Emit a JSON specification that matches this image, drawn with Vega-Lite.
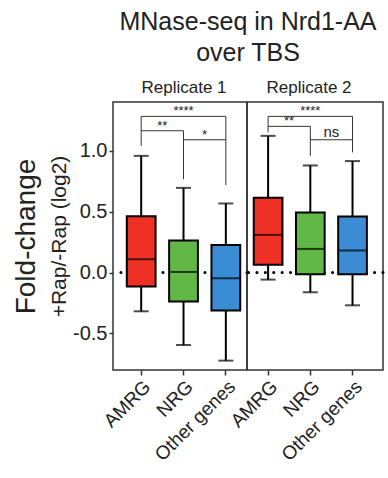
{
  "$schema": "https://vega.github.io/schema/vega-lite/v6.json",
  "background": "white",
  "padding": {"left": 11, "top": 10, "right": 0, "bottom": 0},
  "bounds": "flush",
  "title": {"text": ["MNase-seq in Nrd1-AA", "over TBS"], "fontSize": 25, "lineHeight": 31, "anchor": "start", "align": "center", "frame": "group", "dx": 135, "offset": 12},
  "datasets": {
    "boxes": [
      {"rep": "Replicate 1", "cat": "AMRG", "lower": -0.318, "q1": -0.115, "median": 0.109, "q3": 0.463, "upper": 0.958},
      {"rep": "Replicate 1", "cat": "NRG", "lower": -0.595, "q1": -0.238, "median": 0.005, "q3": 0.263, "upper": 0.695},
      {"rep": "Replicate 1", "cat": "Other genes", "lower": -0.723, "q1": -0.312, "median": -0.047, "q3": 0.227, "upper": 0.567},
      {"rep": "Replicate 2", "cat": "AMRG", "lower": -0.058, "q1": 0.065, "median": 0.309, "q3": 0.613, "upper": 1.122},
      {"rep": "Replicate 2", "cat": "NRG", "lower": -0.162, "q1": -0.014, "median": 0.194, "q3": 0.493, "upper": 0.879},
      {"rep": "Replicate 2", "cat": "Other genes", "lower": -0.269, "q1": -0.014, "median": 0.181, "q3": 0.46, "upper": 0.915}
    ],
    "hbr": [
      {"rep": "Replicate 1", "c1": "AMRG", "c2": "Other genes", "y": 1.282},
      {"rep": "Replicate 1", "c1": "AMRG", "c2": "NRG", "y": 1.164},
      {"rep": "Replicate 1", "c1": "NRG", "c2": "Other genes", "y": 1.09},
      {"rep": "Replicate 2", "c1": "AMRG", "c2": "Other genes", "y": 1.282},
      {"rep": "Replicate 2", "c1": "AMRG", "c2": "NRG", "y": 1.2},
      {"rep": "Replicate 2", "c1": "NRG", "c2": "Other genes", "y": 1.09}
    ],
    "vbr": [
      {"rep": "Replicate 1", "cat": "AMRG", "y1": 1.282, "y2": 1.04},
      {"rep": "Replicate 1", "cat": "NRG", "y1": 1.164, "y2": 0.767},
      {"rep": "Replicate 1", "cat": "Other genes", "y1": 1.282, "y2": 0.717},
      {"rep": "Replicate 2", "cat": "AMRG", "y1": 1.282, "y2": 1.15},
      {"rep": "Replicate 2", "cat": "NRG", "y1": 1.2, "y2": 0.958},
      {"rep": "Replicate 2", "cat": "Other genes", "y1": 1.282, "y2": 0.986}
    ],
    "sig": [
      {"rep": "Replicate 1", "c1": "AMRG", "c2": "Other genes", "y": 1.282, "label": "****"},
      {"rep": "Replicate 1", "c1": "AMRG", "c2": "NRG", "y": 1.164, "label": "**"},
      {"rep": "Replicate 1", "c1": "NRG", "c2": "Other genes", "y": 1.09, "label": "*"},
      {"rep": "Replicate 2", "c1": "AMRG", "c2": "Other genes", "y": 1.282, "label": "****"},
      {"rep": "Replicate 2", "c1": "AMRG", "c2": "NRG", "y": 1.2, "label": "**"},
      {"rep": "Replicate 2", "c1": "NRG", "c2": "Other genes", "y": 1.09, "label": "ns"}
    ]
  },
  "spacing": 0,
  "hconcat": [
    {
      "width": 134,
      "height": 268,
      "title": {"text": "Replicate 1", "fontSize": 17, "dx": 4, "offset": 5},
      "resolve": {"axis": {"y": "independent"}},
      "layer": [
        {
          "data": {"values": [{}]},
          "mark": {"type": "rule", "strokeDash": [0.1, 8.3], "strokeCap": "round", "strokeWidth": 3, "color": "black"},
          "encoding": {"y": {"datum": 0, "type": "quantitative", "scale": {"domain": [-0.8, 1.4], "nice": false, "zero": false}, "axis": null}}
        },
        {
          "data": {"name": "boxes"},
          "transform": [{"filter": "datum.rep == 'Replicate 1'"}],
          "mark": {"type": "rule", "strokeWidth": 2, "color": "black"},
          "encoding": {
            "x": {"field": "cat", "type": "nominal", "sort": ["AMRG", "NRG", "Other genes"], "scale": {"domain": ["AMRG", "NRG", "Other genes"], "paddingInner": 0, "paddingOuter": 0.083, "align": 1}, "axis": {"title": null, "labelAngle": -45, "labelFontSize": 19, "tickSize": 5, "labelAlign": "right", "labelBaseline": "top", "labelPadding": 2}},
            "y": {"field": "lower", "type": "quantitative", "scale": {"domain": [-0.8, 1.4], "nice": false, "zero": false}, "axis": {"orient": "left", "title": "Fold-change", "titleFontSize": 28, "labels": false, "ticks": false, "domain": false, "titlePadding": 73}},
            "y2": {"field": "upper"}
          }
        },
        {
          "data": {"name": "boxes"},
          "transform": [{"filter": "datum.rep == 'Replicate 1'"}],
          "mark": {"type": "bar", "stroke": "black", "strokeWidth": 2, "width": {"band": 0.68}},
          "encoding": {
            "x": {"field": "cat", "type": "nominal", "sort": ["AMRG", "NRG", "Other genes"]},
            "y": {"field": "q1", "type": "quantitative", "axis": {"orient": "left", "title": "+Rap/-Rap (log2)", "titleFontSize": 21, "labelFontSize": 20, "values": [-0.5, 0, 0.5, 1], "labelExpr": "datum.value < 0 ? '-' + format(-datum.value, '.1f') : format(datum.value, '.1f')", "tickSize": 4, "labelPadding": 2, "titlePadding": 3}},
            "y2": {"field": "q3"},
            "color": {"field": "cat", "type": "nominal", "scale": {"domain": ["AMRG", "NRG", "Other genes"], "range": ["#ee3124", "#62b847", "#3a8dd5"]}, "legend": null}
          }
        },
        {
          "data": {"name": "boxes"},
          "transform": [{"filter": "datum.rep == 'Replicate 1'"}],
          "mark": {"type": "tick", "color": "black", "thickness": 2, "size": 29},
          "encoding": {
            "x": {"field": "cat", "type": "nominal", "sort": ["AMRG", "NRG", "Other genes"]},
            "y": {"field": "median", "type": "quantitative", "axis": null}
          }
        },
        {
          "data": {"name": "boxes"},
          "transform": [{"filter": "datum.rep == 'Replicate 1'"}],
          "mark": {"type": "tick", "color": "black", "thickness": 2, "size": 15},
          "encoding": {
            "x": {"field": "cat", "type": "nominal", "sort": ["AMRG", "NRG", "Other genes"]},
            "y": {"field": "lower", "type": "quantitative", "axis": null}
          }
        },
        {
          "data": {"name": "boxes"},
          "transform": [{"filter": "datum.rep == 'Replicate 1'"}],
          "mark": {"type": "tick", "color": "black", "thickness": 2, "size": 15},
          "encoding": {
            "x": {"field": "cat", "type": "nominal", "sort": ["AMRG", "NRG", "Other genes"]},
            "y": {"field": "upper", "type": "quantitative", "axis": null}
          }
        },
        {
          "data": {"name": "hbr"},
          "transform": [{"filter": "datum.rep == 'Replicate 1'"}],
          "mark": {"type": "rule", "strokeWidth": 1, "color": "#333"},
          "encoding": {
            "x": {"field": "c1", "type": "nominal", "sort": ["AMRG", "NRG", "Other genes"]},
            "x2": {"field": "c2"},
            "y": {"field": "y", "type": "quantitative", "axis": null}
          }
        },
        {
          "data": {"name": "vbr"},
          "transform": [{"filter": "datum.rep == 'Replicate 1'"}],
          "mark": {"type": "rule", "strokeWidth": 1, "color": "#333"},
          "encoding": {
            "x": {"field": "cat", "type": "nominal", "sort": ["AMRG", "NRG", "Other genes"]},
            "y": {"field": "y1", "type": "quantitative", "axis": null},
            "y2": {"field": "y2"}
          }
        },
        {
          "data": {"name": "sig"},
          "transform": [{"filter": "datum.rep == 'Replicate 1' && datum.label == '****'"}],
          "mark": {"type": "text", "fontSize": 13, "baseline": "alphabetic", "dy": -1, "color": "#222"},
          "encoding": {
            "x": {"datum": "NRG", "type": "nominal"},
            "y": {"field": "y", "type": "quantitative", "axis": null},
            "text": {"field": "label"}
          }
        },
        {
          "data": {"name": "sig"},
          "transform": [{"filter": "datum.rep == 'Replicate 1' && datum.label != '****'"}],
          "mark": {"type": "text", "fontSize": 13, "baseline": "alphabetic", "dy": -1, "dx": 21, "color": "#222"},
          "encoding": {
            "x": {"field": "c1", "type": "nominal", "sort": ["AMRG", "NRG", "Other genes"]},
            "y": {"field": "y", "type": "quantitative", "axis": null},
            "text": {"field": "label"}
          }
        }
      ]
    },
    {
      "width": 136,
      "height": 268,
      "title": {"text": "Replicate 2", "fontSize": 17, "dx": -6, "offset": 5},
      "layer": [
        {
          "data": {"values": [{}]},
          "mark": {"type": "rule", "strokeDash": [0.1, 8.3], "strokeCap": "round", "strokeWidth": 3, "color": "black"},
          "encoding": {"y": {"datum": 0, "type": "quantitative", "scale": {"domain": [-0.8, 1.4], "nice": false, "zero": false}, "axis": null}}
        },
        {
          "data": {"name": "boxes"},
          "transform": [{"filter": "datum.rep == 'Replicate 2'"}],
          "mark": {"type": "rule", "strokeWidth": 2, "color": "black"},
          "encoding": {
            "x": {"field": "cat", "type": "nominal", "sort": ["AMRG", "NRG", "Other genes"], "scale": {"domain": ["AMRG", "NRG", "Other genes"], "paddingInner": 0, "paddingOuter": 0.111, "align": 0}, "axis": {"title": null, "labelAngle": -45, "labelFontSize": 19, "tickSize": 5, "labelAlign": "right", "labelBaseline": "top", "labelPadding": 2}},
            "y": {"field": "lower", "type": "quantitative", "scale": {"domain": [-0.8, 1.4], "nice": false, "zero": false}, "axis": null},
            "y2": {"field": "upper"}
          }
        },
        {
          "data": {"name": "boxes"},
          "transform": [{"filter": "datum.rep == 'Replicate 2'"}],
          "mark": {"type": "bar", "stroke": "black", "strokeWidth": 2, "width": {"band": 0.68}},
          "encoding": {
            "x": {"field": "cat", "type": "nominal", "sort": ["AMRG", "NRG", "Other genes"]},
            "y": {"field": "q1", "type": "quantitative", "axis": null},
            "y2": {"field": "q3"},
            "color": {"field": "cat", "type": "nominal", "scale": {"domain": ["AMRG", "NRG", "Other genes"], "range": ["#ee3124", "#62b847", "#3a8dd5"]}, "legend": null}
          }
        },
        {
          "data": {"name": "boxes"},
          "transform": [{"filter": "datum.rep == 'Replicate 2'"}],
          "mark": {"type": "tick", "color": "black", "thickness": 2, "size": 29},
          "encoding": {
            "x": {"field": "cat", "type": "nominal", "sort": ["AMRG", "NRG", "Other genes"]},
            "y": {"field": "median", "type": "quantitative", "axis": null}
          }
        },
        {
          "data": {"name": "boxes"},
          "transform": [{"filter": "datum.rep == 'Replicate 2'"}],
          "mark": {"type": "tick", "color": "black", "thickness": 2, "size": 15},
          "encoding": {
            "x": {"field": "cat", "type": "nominal", "sort": ["AMRG", "NRG", "Other genes"]},
            "y": {"field": "lower", "type": "quantitative", "axis": null}
          }
        },
        {
          "data": {"name": "boxes"},
          "transform": [{"filter": "datum.rep == 'Replicate 2'"}],
          "mark": {"type": "tick", "color": "black", "thickness": 2, "size": 15},
          "encoding": {
            "x": {"field": "cat", "type": "nominal", "sort": ["AMRG", "NRG", "Other genes"]},
            "y": {"field": "upper", "type": "quantitative", "axis": null}
          }
        },
        {
          "data": {"name": "hbr"},
          "transform": [{"filter": "datum.rep == 'Replicate 2'"}],
          "mark": {"type": "rule", "strokeWidth": 1, "color": "#333"},
          "encoding": {
            "x": {"field": "c1", "type": "nominal", "sort": ["AMRG", "NRG", "Other genes"]},
            "x2": {"field": "c2"},
            "y": {"field": "y", "type": "quantitative", "axis": null}
          }
        },
        {
          "data": {"name": "vbr"},
          "transform": [{"filter": "datum.rep == 'Replicate 2'"}],
          "mark": {"type": "rule", "strokeWidth": 1, "color": "#333"},
          "encoding": {
            "x": {"field": "cat", "type": "nominal", "sort": ["AMRG", "NRG", "Other genes"]},
            "y": {"field": "y1", "type": "quantitative", "axis": null},
            "y2": {"field": "y2"}
          }
        },
        {
          "data": {"name": "sig"},
          "transform": [{"filter": "datum.rep == 'Replicate 2' && datum.label == '****'"}],
          "mark": {"type": "text", "fontSize": 13, "baseline": "alphabetic", "dy": -1, "color": "#222"},
          "encoding": {
            "x": {"datum": "NRG", "type": "nominal"},
            "y": {"field": "y", "type": "quantitative", "axis": null},
            "text": {"field": "label"}
          }
        },
        {
          "data": {"name": "sig"},
          "transform": [{"filter": "datum.rep == 'Replicate 2' && datum.label == '**'"}],
          "mark": {"type": "text", "fontSize": 13, "baseline": "alphabetic", "dy": -1, "dx": 21, "color": "#222"},
          "encoding": {
            "x": {"field": "c1", "type": "nominal", "sort": ["AMRG", "NRG", "Other genes"]},
            "y": {"field": "y", "type": "quantitative", "axis": null},
            "text": {"field": "label"}
          }
        },
        {
          "data": {"name": "sig"},
          "transform": [{"filter": "datum.rep == 'Replicate 2' && datum.label == 'ns'"}],
          "mark": {"type": "text", "fontSize": 15, "baseline": "alphabetic", "dy": -3, "dx": 21, "color": "#222"},
          "encoding": {
            "x": {"field": "c1", "type": "nominal", "sort": ["AMRG", "NRG", "Other genes"]},
            "y": {"field": "y", "type": "quantitative", "axis": null},
            "text": {"field": "label"}
          }
        }
      ]
    }
  ],
  "config": {
    "font": "Liberation Sans",
    "view": {"stroke": "#333", "strokeWidth": 1.5},
    "axis": {"labelFont": "Liberation Sans", "titleFont": "Liberation Sans", "labelColor": "#222", "titleColor": "#222", "tickColor": "#333", "tickWidth": 1.5, "domain": false, "grid": false, "titleFontWeight": "normal"},
    "title": {"font": "Liberation Sans", "fontWeight": "normal", "color": "#222"},
    "text": {"font": "Liberation Sans"}
  }
}
